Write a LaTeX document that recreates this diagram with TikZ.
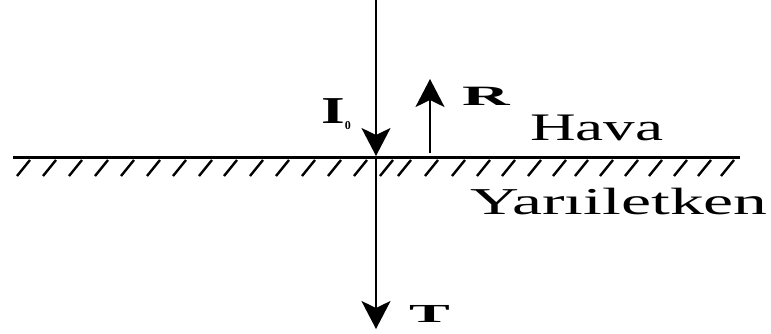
\documentclass[tikz,border=0pt]{standalone}
\usepackage{fontspec,graphicx}
\setmainfont{Liberation Serif}
\usetikzlibrary{arrows.meta}
\tikzset{ray/.style={-{Stealth[length=28pt,width=29pt,inset=7pt]},line width=2pt},
 surf/.style={line width=3pt},hatch/.style={line width=2.4pt},
 lbl/.style={inner sep=0pt,anchor=base west}}

\begin{document}
\begin{tikzpicture}[x=1pt,y=-1pt]
\useasboundingbox (0,0) rectangle (771,333);
% interface
\coordinate (left) at (13,157);
\coordinate (right) at (740,157);
\draw[surf] (left) -- (right);
\foreach \x in {17,43,69,95,121,147,173,199,224,250,276,302,328,354,380,
 398,425,452,477,502,528,553,575,600,625,649,674,698,721}
 \draw[hatch] (\x,176) -- ++(13,-16);
% rays
\coordinate (src) at (376,0);
\coordinate (hit) at (376,156);
\coordinate (low) at (376,329);
\coordinate (rfoot) at (430,153);
\coordinate (rtip) at (430,79);
\draw[ray] (src) -- (hit);
\draw[ray] (hit) -- (low);
\draw[ray] (rfoot) -- (rtip);
% labels
\node[lbl,font=\fontsize{38}{38}\selectfont\bfseries] (inc) at (321,123)
 {\scalebox{1.6}[1]{I}\raisebox{-6pt}{\fontsize{12}{12}\selectfont\bfseries 0}};
\node[lbl,font=\fontsize{28}{28}\selectfont\bfseries] (refl) at (462,105) {\scalebox{2.35}[1]{R}};
\node[lbl,font=\fontsize{26}{26}\selectfont\bfseries] (trans) at (409,322) {\scalebox{2.35}[1]{T}};
\node[lbl,font=\fontsize{39}{39}\selectfont] (air) at (530,140) {\scalebox{1.62}[1]{Hava}};
\node[lbl,font=\fontsize{38}{38}\selectfont] (semi) at (470,214) {\scalebox{1.78}[1]{Yarıiletken}};
\end{tikzpicture}
\end{document}
